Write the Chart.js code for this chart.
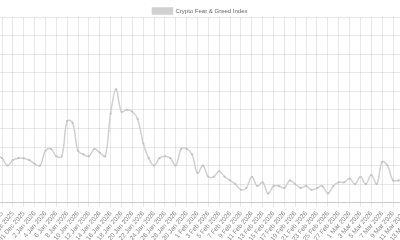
<!DOCTYPE html>
<html>
<head>
<meta charset="utf-8">
<script src="https://cdn.jsdelivr.net/npm/chart.js@4.4.1/dist/chart.umd.min.js"></script>
<style>
  html, body { margin: 0; padding: 0; background: #fff; overflow: hidden; }
  body { width: 400px; height: 240px; position: relative; }
  #wrap { position: absolute; left: -40px; top: 0; width: 480px; height: 246px; }
</style>
</head>
<body>
<div id="wrap"><canvas id="fngChart"></canvas></div>
<script>
// Daily index values, 20 Dec 2025 .. 16 Mar 2026
const startDate = '2025-12-20';
const fngValues = [
    22, 24, 25, 23, 24, 26, 25,             // 20-26 Dec (off screen)
    24, 20, 23, 24, 24, 23, 21, 20,         // 27 Dec - 3 Jan
    28, 29, 25, 25, 44, 43, 28, 26,         // 4-11 Jan
    25, 29, 27, 25, 48, 61, 49, 50,         // 12-19 Jan
    49, 45, 32, 24, 20, 24, 25, 24,         // 20-27 Jan
    20, 29, 29, 26, 16, 20, 14, 14,         // 28 Jan - 4 Feb
    17, 14, 12, 10, 7, 8, 14, 9,            // 5-12 Feb
    11, 5, 9, 9, 8, 12, 10, 8,              // 13-20 Feb
    9, 7, 8, 9, 5, 9, 11, 11,               // 21-28 Feb
    13, 10, 14, 10, 15, 10, 22, 20,         // 1-8 Mar
    12, 12,                                 // 9-10 Mar
    12, 13, 15, 14, 13, 12                  // 11-16 Mar (off screen)
];
const yTicks = [0, 10, 20, 30, 40, 50, 60, 70, 80, 90, 100];
const monthNames = ['Jan', 'Feb', 'Mar', 'Apr', 'May', 'Jun', 'Jul', 'Aug', 'Sep', 'Oct', 'Nov', 'Dec'];

// Category labels, one per day
const dayLabels = fngValues.map((v, i) => {
    const d = new Date(startDate + 'T00:00:00Z');
    d.setUTCDate(d.getUTCDate() + i);
    return `${d.getUTCDate()} ${monthNames[d.getUTCMonth()]} ${d.getUTCFullYear()}`;
});

Chart.defaults.font.family = "'Liberation Sans', Arial, sans-serif";
Chart.defaults.font.size = 6;
Chart.defaults.color = '#666';

const gridColor = 'rgba(0,0,0,0.09)';
// only every second day gets a label and a grid line
const everyOther = ctx => (ctx.index % 2 === 1 ? gridColor : 'rgba(0,0,0,0)');

// pull the plot up a little closer to the legend
const legendGap = {
    id: 'legendGap',
    beforeInit(chart) {
        const fit = chart.legend.fit;
        chart.legend.fit = function () {
            fit.bind(chart.legend)();
            this.height -= 7;
        };
    }
};

const ctx = document.getElementById('fngChart').getContext('2d');
new Chart(ctx, {
    type: 'line',
    data: {
        labels: dayLabels,
        datasets: [{
            label: 'Crypto Fear & Greed Index',
            data: fngValues,
            borderColor: '#d0d0d0',
            backgroundColor: '#d0d0d0',
            borderWidth: 1.5,
            pointRadius: 1.1,
            pointBackgroundColor: '#c2c2c2',
            pointBorderWidth: 0,
            tension: 0.4,
            fill: false
        }]
    },
    options: {
        responsive: true,
        maintainAspectRatio: false,
        animation: false,
        layout: { padding: 0 },
        plugins: {
            legend: {
                position: 'top',
                labels: { boxWidth: 20, boxHeight: 6, padding: 8 }
            },
            tooltip: { enabled: false }
        },
        scales: {
            x: {
                grid: { color: everyOther, tickLength: 4 },
                border: { color: 'rgba(0,0,0,0.12)' },
                ticks: {
                    autoSkip: false,
                    minRotation: 50,
                    maxRotation: 50,
                    padding: 3,
                    color: '#888',
                    font: { size: 6.5 },
                    callback: function (val, i) {
                        return i % 2 === 1 ? this.getLabelForValue(val) : '';
                    }
                }
            },
            y: {
                min: yTicks[0],
                max: yTicks[yTicks.length - 1],
                afterBuildTicks: axis => { axis.ticks = yTicks.map(v => ({ value: v })); },
                grid: { color: gridColor, drawTicks: false },
                border: { display: false },
                ticks: { display: false }
            }
        }
    },
    plugins: [legendGap]
});
</script>
</body>
</html>
